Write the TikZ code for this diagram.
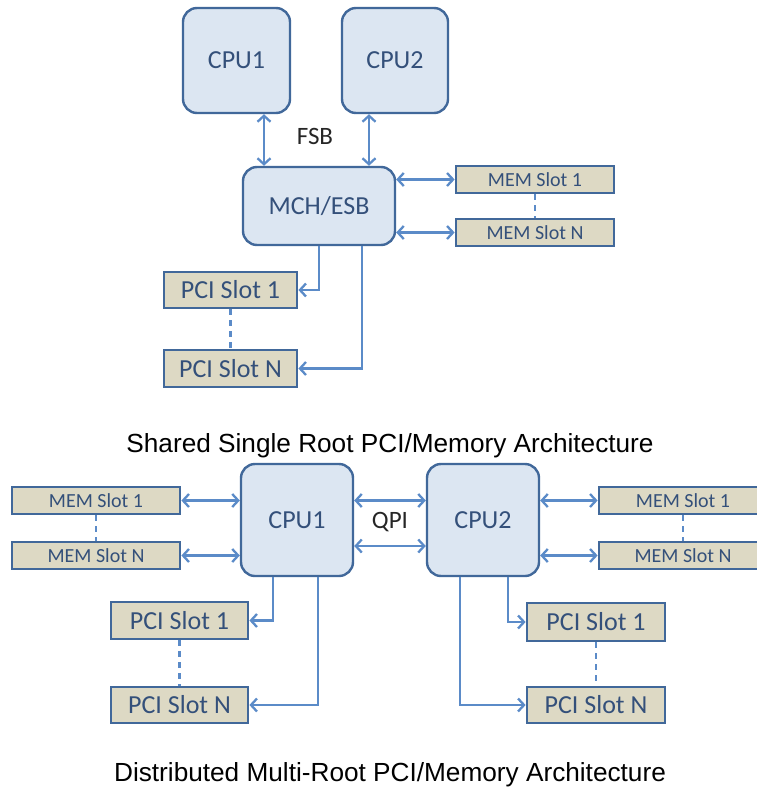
\documentclass[tikz,border=0pt]{standalone}
\usepackage{fontspec}
\setmainfont{Liberation Sans}
\newfontfamily\boxfont{Carlito}
\usepackage{xcolor}
\usepackage{tikz}
\usetikzlibrary{arrows.meta}

\definecolor{chipfill}{HTML}{DCE6F2}
\definecolor{slotfill}{HTML}{DDD9C4}
\definecolor{boxline}{HTML}{41689A}
\definecolor{linkblue}{HTML}{5B8BC8}
\definecolor{labelblue}{HTML}{34507A}

\tikzset{
  chip/.style={draw=boxline, fill=chipfill, rounded corners=14pt, line width=2.4pt,
    text=labelblue, inner sep=0pt, font=\boxfont\fontsize{26}{26}\selectfont},
  slot/.style={draw=boxline, fill=slotfill, line width=2.8pt, text=labelblue,
    inner sep=0pt, font=\boxfont\fontsize{26}{26}\selectfont},
  memslot/.style={slot, font=\boxfont\fontsize{20}{20}\selectfont},
  link/.style={draw=linkblue, line width=2.3pt},
  tip/.style={-{Straight Barb[length=6pt,width=13pt]}},
  both/.style={{Straight Barb[length=6pt,width=13pt]}-{Straight Barb[length=6pt,width=13pt]}},
  between/.style={draw=linkblue, line width=2.2pt, dash pattern=on 6pt off 5pt},
  busname/.style={text=black!85, font=\boxfont\fontsize{25}{25}\selectfont},
  caption/.style={anchor=base, font=\fontsize{26.2}{27}\selectfont}
}

\begin{document}
\begin{tikzpicture}[x=1pt,y=-1pt]
\useasboundingbox (0,0) rectangle (756,797);

% shared single root
\node[chip, minimum width=107pt, minimum height=105pt] (cpuA) at (236.5,60.5) {CPU1};
\node[chip, minimum width=106pt, minimum height=105pt] (cpuB) at (395,60.5) {CPU2};
\node[chip, minimum width=152pt, minimum height=78pt] (mch) at (319,206) {MCH/ESB};
\node[memslot, minimum width=158pt, minimum height=27pt] (memA) at (535,179.5) {MEM Slot 1};
\node[memslot, minimum width=158pt, minimum height=27pt] (memB) at (535,232.5) {MEM Slot N};
\node[slot, minimum width=133pt, minimum height=36pt] (pciA) at (230.5,290) {PCI Slot 1};
\node[slot, minimum width=133pt, minimum height=37pt] (pciB) at (230.5,368.5) {PCI Slot N};
\node[busname] (fsb) at (315,136) {FSB};

\path ([xshift=27.5pt]cpuA.south) coordinate (fsbA);
\path ([xshift=-26pt]cpuB.south) coordinate (fsbB);
\draw[link,both] (fsbA) -- (fsbA |- mch.north);
\draw[link,both] (fsbB) -- (fsbB |- mch.north);
\draw[link,both] (memA.west -| mch.east) -- (memA.west);
\draw[link,both] (memB.west -| mch.east) -- (memB.west);
\draw[link,tip] (mch.south) |- (pciA.east);
\draw[link,tip] ([xshift=43pt]mch.south) |- (pciB.east);
\draw[between] (memA.south) -- (memB.north);
\draw[between] (pciA.south) -- (pciB.north);

\node[caption] (capA) at (390,452) {Shared Single Root PCI/Memory Architecture};

% distributed multi root
\node[chip, minimum width=112pt, minimum height=112pt] (cpuC) at (297,520) {CPU1};
\node[chip, minimum width=112pt, minimum height=112pt] (cpuD) at (483,520) {CPU2};
\node[memslot, minimum width=168pt, minimum height=27pt] (memC) at (96,500.5) {MEM Slot 1};
\node[memslot, minimum width=168pt, minimum height=27pt] (memD) at (96,555.5) {MEM Slot N};
\node[memslot, minimum width=168pt, minimum height=27pt] (memE) at (683,500.5) {MEM Slot 1};
\node[memslot, minimum width=168pt, minimum height=27pt] (memF) at (683,555.5) {MEM Slot N};
\node[slot, minimum width=137pt, minimum height=37pt] (pciC) at (179.5,620.5) {PCI Slot 1};
\node[slot, minimum width=137pt, minimum height=36pt] (pciD) at (179.5,705) {PCI Slot N};
\node[slot, minimum width=138pt, minimum height=38pt] (pciE) at (596,622) {PCI Slot 1};
\node[slot, minimum width=138pt, minimum height=36pt] (pciF) at (596,705) {PCI Slot N};
\node[busname] (qpi) at (390,522) {QPI};

\draw[link,both] (memC.east) -- (memC.east -| cpuC.west);
\draw[link,both] (memD.east) -- (memD.east -| cpuC.west);
\draw[link,both] (memE.west -| cpuD.east) -- (memE.west);
\draw[link,both] (memF.west -| cpuD.east) -- (memF.west);
\draw[link,both] (cpuC.east |- memC.east) -- (cpuD.west |- memC.east);
\draw[link,both] ([yshift=-26pt]cpuC.east) -- ([yshift=-26pt]cpuD.west);
\draw[link,tip] ([xshift=-24pt]cpuC.south) |- (pciC.east);
\draw[link,tip] ([xshift=21pt]cpuC.south) |- (pciD.east);
\draw[link,tip] ([xshift=25pt]cpuD.south) |- (pciE.west);
\draw[link,tip] ([xshift=-23pt]cpuD.south) |- (pciF.west);
\draw[between] (memC.south) -- (memD.north);
\draw[between] (memE.south) -- (memF.north);
\draw[between] (pciC.south) -- (pciD.north);
\draw[between] (pciE.south) -- (pciF.north);

\node[caption] (capB) at (390,781) {Distributed Multi-Root PCI/Memory Architecture};
\end{tikzpicture}
\end{document}
